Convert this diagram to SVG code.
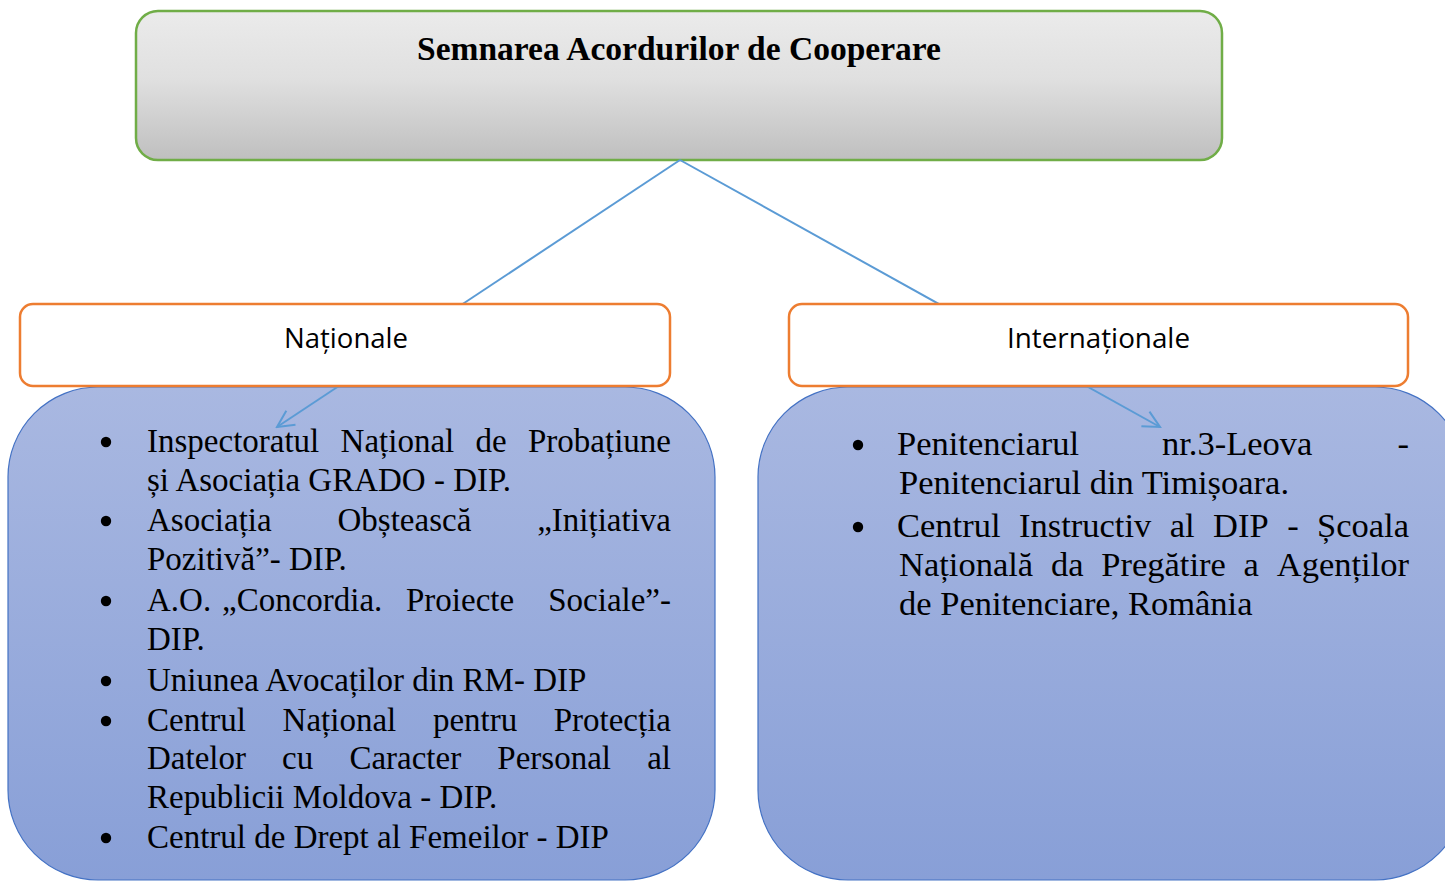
<svg xmlns="http://www.w3.org/2000/svg" width="1445" height="882" viewBox="0 0 1445 882">
<style>
.serif{font-family:"Liberation Serif","Times New Roman",serif;fill:#000}
.l{font-size:33px}
.r{font-size:34.5px}
.sans{font-family:"Open Sans","Liberation Sans",sans-serif;font-size:27px;fill:#000}
.orange{fill:#fff;stroke:#ED7D31;stroke-width:2.5}
.blue{fill:url(#gBlue);stroke:#4472C4;stroke-width:1.2}
.conn{stroke:#5B9BD5;stroke-width:2;fill:none}
.dot{fill:#000}
</style>
<defs>
<linearGradient id="gGray" x1="0" y1="0" x2="0" y2="1">
<stop offset="0" stop-color="#EBEBEB"/>
<stop offset="0.45" stop-color="#E0E0E0"/>
<stop offset="1" stop-color="#BFBFBF"/>
</linearGradient>
<linearGradient id="gBlue" x1="0" y1="0" x2="0" y2="1">
<stop offset="0" stop-color="#A9B8E1"/>
<stop offset="1" stop-color="#889FD7"/>
</linearGradient>
<marker id="arrow" viewBox="0 0 12 12" refX="11" refY="6" markerWidth="20" markerHeight="20" markerUnits="userSpaceOnUse" orient="auto">
<path d="M1,1 L11,6 L1,11" fill="none" stroke="#5B9BD5" stroke-width="1.2"/>
</marker>
</defs>

<g id="top">
<rect x="136" y="11" width="1086" height="149" rx="22" fill="url(#gGray)" stroke="#70AD47" stroke-width="2.5"/>
<text class="serif" x="679" y="60" font-size="33" font-weight="bold" text-anchor="middle" textLength="524" lengthAdjust="spacingAndGlyphs">Semnarea Acordurilor de Cooperare</text>
</g>

<g id="nat-list-box">
<rect class="blue" x="8" y="387" width="707" height="493" rx="90"/>
</g>
<g id="int-list-box">
<rect class="blue" x="758" y="387" width="707" height="493" rx="90"/>
</g>

<g id="connectors">
<path class="conn" d="M680,160 L277,427" marker-end="url(#arrow)"/>
<path class="conn" d="M680,160 L1160,427" marker-end="url(#arrow)"/>
</g>

<g id="nationale">
<rect class="orange" x="20" y="304" width="650" height="82" rx="13"/>
<text class="sans" x="346" y="348" text-anchor="middle" textLength="124" lengthAdjust="spacingAndGlyphs">Naționale</text>
</g>
<g id="internationale">
<rect class="orange" x="789" y="304" width="619" height="82" rx="13"/>
<text class="sans" x="1098.5" y="348" text-anchor="middle" textLength="183" lengthAdjust="spacingAndGlyphs">Internaționale</text>
</g>

<g id="bullets">
<circle class="dot" cx="106" cy="442" r="5.2"/>
<circle class="dot" cx="106" cy="521" r="5.2"/>
<circle class="dot" cx="106" cy="601" r="5.2"/>
<circle class="dot" cx="106" cy="681" r="5.2"/>
<circle class="dot" cx="106" cy="721" r="5.2"/>
<circle class="dot" cx="106" cy="838" r="5.2"/>
<circle class="dot" cx="858" cy="445" r="5.2"/>
<circle class="dot" cx="858" cy="527" r="5.2"/>
</g>

<g id="nat-list-text" class="serif l">
<text x="147" y="452">Inspectoratul</text>
<text x="340.6" y="452">Național</text>
<text x="475.6" y="452">de</text>
<text x="671" y="452" text-anchor="end">Probațiune</text>
<text x="147" y="491">și Asociația GRADO - DIP.</text>

<text x="147" y="531">Asociația</text>
<text x="337.5" y="531">Obștească</text>
<text x="671" y="531" text-anchor="end">„Inițiativa</text>
<text x="147" y="570">Pozitivă”- DIP.</text>

<text x="147" y="611">A.O.</text>
<text x="222" y="611">„Concordia.</text>
<text x="406" y="611">Proiecte</text>
<text x="671" y="611" text-anchor="end">Sociale”-</text>
<text x="147" y="650">DIP.</text>

<text x="147" y="691">Uniunea Avocaților din RM- DIP</text>

<text x="147" y="731">Centrul</text>
<text x="282.6" y="731">Național</text>
<text x="432.9" y="731">pentru</text>
<text x="671" y="731" text-anchor="end">Protecția</text>
<text x="147" y="769">Datelor</text>
<text x="282.1" y="769">cu</text>
<text x="349.4" y="769">Caracter</text>
<text x="497.3" y="769">Personal</text>
<text x="671" y="769" text-anchor="end">al</text>
<text x="147" y="808">Republicii Moldova - DIP.</text>

<text x="147" y="848">Centrul de Drept al Femeilor - DIP</text>
</g>

<g id="int-list-text" class="serif r">
<text x="897" y="455">Penitenciarul</text>
<text x="1162" y="455">nr.3-Leova</text>
<text x="1409" y="455" text-anchor="end">-</text>
<text x="899" y="494">Penitenciarul din Timișoara.</text>

<text x="897" y="537">Centrul</text>
<text x="1019" y="537">Instructiv</text>
<text x="1169.7" y="537">al</text>
<text x="1213.1" y="537">DIP</text>
<text x="1287.2" y="537">-</text>
<text x="1409" y="537" text-anchor="end">Școala</text>
<text x="899" y="576">Națională</text>
<text x="1050.9" y="576">da</text>
<text x="1101.3" y="576">Pregătire</text>
<text x="1243.6" y="576">a</text>
<text x="1409" y="576" text-anchor="end">Agenților</text>
<text x="899" y="615">de Penitenciare, România</text>
</g>
</svg>
